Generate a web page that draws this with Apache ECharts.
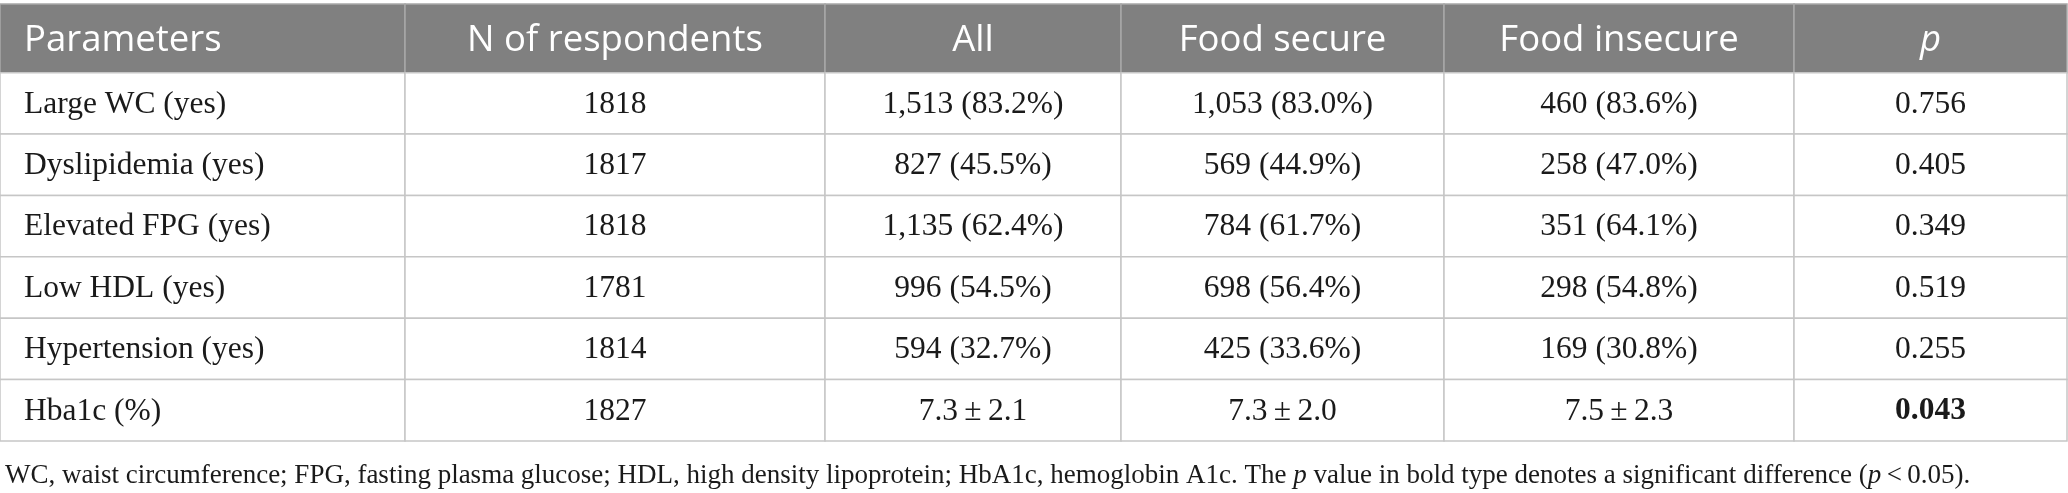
<!DOCTYPE html>
<html>
<head>
    <meta charset="utf-8">
    <title>ECharts</title>
    <script src="https://cdn.jsdelivr.net/npm/echarts@6/dist/echarts.min.js"></script>
    <style>
        html, body { margin: 0; padding: 0; background: #fff; }
    </style>
</head>
<body>
<div id="main" style="width: 2068px;height:493px;"></div>
<script type="text/javascript">
    // table content
    var columns = ['Parameters', 'N of respondents', 'All', 'Food secure', 'Food insecure', 'p'];
    var parameters = ['Large WC (yes)', 'Dyslipidemia (yes)', 'Elevated FPG (yes)', 'Low HDL (yes)', 'Hypertension (yes)', 'Hba1c (%)'];
    var respondents = ['1818', '1817', '1818', '1781', '1814', '1827'];
    var allValues = ['1,513 (83.2%)', '827 (45.5%)', '1,135 (62.4%)', '996 (54.5%)', '594 (32.7%)', '7.3\u2009±\u20092.1'];
    var foodSecure = ['1,053 (83.0%)', '569 (44.9%)', '784 (61.7%)', '698 (56.4%)', '425 (33.6%)', '7.3\u2009±\u20092.0'];
    var foodInsecure = ['460 (83.6%)', '258 (47.0%)', '351 (64.1%)', '298 (54.8%)', '169 (30.8%)', '7.5\u2009±\u20092.3'];
    var pValues = ['0.756', '0.405', '0.349', '0.519', '0.255', '0.043'];
    var significant = [false, false, false, false, false, true];

    // layout: column edges in px along x axis, header height in row units
    var colEdges = [0, 405, 825, 1121, 1444, 1794, 2067];
    var headerH = 1.12;

    var bodyCols = [parameters, respondents, allValues, foodSecure, foodInsecure, pValues];
    var cells = [];
    for (var c = 0; c < columns.length; c++) {
        cells.push([c, -1]);
        for (var r = 0; r < parameters.length; r++) {
            cells.push([c, r]);
        }
    }

    function rowTop(r) { return r < 0 ? 0 : headerH + r; }
    function rowBottom(r) { return r < 0 ? headerH : headerH + r + 1; }

    var myChart = echarts.init(document.getElementById('main'), null, {renderer: 'canvas'});

    function renderCell(params, api) {
        var c = api.value(0), r = api.value(1);
        var p0 = api.coord([colEdges[c], rowTop(r)]);
        var p1 = api.coord([colEdges[c + 1], rowBottom(r)]);
        var header = r < 0;
        var text = header ? columns[c] : bodyCols[c][r];
        var leftAlign = c === 0;
        return {
            type: 'group',
            children: [{
                type: 'rect',
                shape: {x: p0[0], y: p0[1], width: p1[0] - p0[0], height: p1[1] - p0[1]},
                style: {
                    fill: header ? '#808080' : '#fff',
                    stroke: header ? '#a8a8a8' : '#c6c6c6',
                    lineWidth: 1.5
                }
            }, {
                type: 'text',
                x: leftAlign ? p0[0] + 24 : (p0[0] + p1[0]) / 2,
                y: (p0[1] + p1[1]) / 2 + (header ? 2 : 1),
                style: {
                    text: text,
                    fill: header ? '#fff' : '#1a1a1a',
                    align: leftAlign ? 'left' : 'center',
                    verticalAlign: 'middle',
                    fontFamily: header ? '"Open Sans", sans-serif' : '"Liberation Serif", serif',
                    fontSize: header ? 36.5 : 31.5,
                    fontStyle: header && c === 5 ? 'italic' : 'normal',
                    fontWeight: !header && c === 5 && significant[r] ? 'bold' : 'normal'
                }
            }]
        };
    }

    var option = {
        animation: false,
        title: {
            left: 0,
            top: 457,
            text: '{n|WC, waist circumference; FPG, fasting plasma glucose; HDL, high density lipoprotein; HbA1c, hemoglobin A1c. The }{i|p}{n| value in bold type denotes a significant difference (}{i|p}{n|\u2009<\u20090.05).}',
            textStyle: {
                fontWeight: 'normal',
                rich: {
                    n: {fontFamily: '"Liberation Serif", serif', fontSize: 27, fontWeight: 'normal', color: '#1a1a1a'},
                    i: {fontFamily: '"Liberation Serif", serif', fontSize: 27, fontWeight: 'normal', color: '#1a1a1a', fontStyle: 'italic'}
                }
            }
        },
        grid: {left: 0, right: 1, top: 4, bottom: 52},
        xAxis: {type: 'value', min: 0, max: 2067, show: false},
        yAxis: {type: 'value', min: 0, max: headerH + parameters.length, inverse: true, show: false},
        series: [{
            type: 'custom',
            renderItem: renderCell,
            data: cells,
            clip: false
        }]
    };

    myChart.setOption(option);
</script>
</body>
</html>
